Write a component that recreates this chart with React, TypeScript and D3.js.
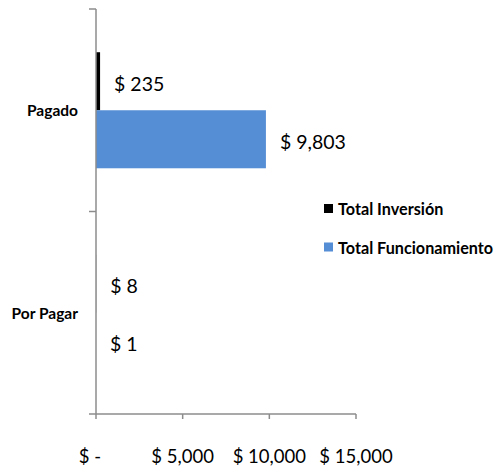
import React from "react";
import * as d3 from "d3";

const categories = ["Pagado", "Por Pagar"];
const seriesNames = ["Total Inversión", "Total Funcionamiento"];
const inversion = [235, 8];
const funcionamiento = [9803, 1];
const xTicks = [0, 5000, 10000, 15000];
const xTickLabels = ["$ -", "$ 5,000", "$ 10,000", "$ 15,000"];
const colors = ["#000000", "#558ed5"];

const W = 499;
const H = 468;
const font = "Lato, 'Open Sans', sans-serif";

export default function App() {
  const x = d3.scaleLinear().domain([0, 15000]).range([96, 356]);
  const y = d3.scaleBand().domain(categories).range([9, 414]).padding(0);
  const inner = d3
    .scaleBand()
    .domain(seriesNames)
    .range([0, y.bandwidth()])
    .paddingInner(0)
    .paddingOuter(0.745);
  const values = [inversion, funcionamiento];
  const fmt = (v: number) => "$ " + d3.format(",")(v);
  const axisColor = "#8c8c8c";

  return (
    <svg
      width={W}
      height={H}
      style={{ position: "absolute", left: 0, top: 0, background: "#fff" }}
      fontFamily={font}
    >
      {/* bars */}
      {categories.map((c, ci) =>
        seriesNames.map((s, si) => {
          const v = values[si][ci];
          const y0 = (y(c) as number) + (inner(s) as number);
          return (
            <rect
              key={c + s}
              x={x(0)}
              y={y0}
              width={Math.max(0, x(v) - x(0))}
              height={inner.bandwidth()}
              fill={colors[si]}
            />
          );
        })
      )}
      {/* axes */}
      <line x1={x(0)} x2={x(0)} y1={9} y2={414} stroke={axisColor} strokeWidth={1.5} />
      <line x1={x(0)} x2={x(15000)} y1={414} y2={414} stroke={axisColor} strokeWidth={1.5} />
      {[9, ...categories.map((c) => (y(c) as number) + y.bandwidth())].map((ty, i) => (
        <line key={"yt" + i} x1={89} x2={x(0)} y1={ty} y2={ty} stroke={axisColor} strokeWidth={1.5} />
      ))}
      {xTicks.map((t, i) => (
        <g key={"xt" + i}>
          <line x1={x(t)} x2={x(t)} y1={414} y2={419} stroke={axisColor} strokeWidth={1.5} />
          <text
            x={x(t) - (i === 0 ? 6 : 0)}
            y={456}
            textAnchor="middle"
            dominantBaseline="central"
            fontSize={18.5}
            fill="#000"
          >
            {xTickLabels[i]}
          </text>
        </g>
      ))}
      {/* category labels */}
      {categories.map((c) => (
        <text
          key={"cl" + c}
          x={78}
          y={(y(c) as number) + y.bandwidth() / 2}
          textAnchor="end"
          dominantBaseline="central"
          fontSize={15.5}
          fontWeight="bold"
          fill="#000"
        >
          {c}
        </text>
      ))}
      {/* data labels */}
      {categories.map((c, ci) =>
        seriesNames.map((s, si) => {
          const v = values[si][ci];
          const yc = (y(c) as number) + (inner(s) as number) + inner.bandwidth() / 2;
          return (
            <text
              key={"dl" + c + s}
              x={x(v) + 14}
              y={yc + 2}
              dominantBaseline="central"
              fontSize={19.5}
              fill="#000"
            >
              {fmt(v)}
            </text>
          );
        })
      )}
      {/* legend */}
      {seriesNames.map((s, i) => {
        const cy = 208.5 + i * 38.5;
        return (
          <g key={"lg" + s}>
            <rect x={324} y={cy - 4.5} width={9} height={9} fill={colors[i]} />
            <text x={338} y={cy} dominantBaseline="central" fontSize={16.2} fontWeight="bold" fill="#000">
              {s}
            </text>
          </g>
        );
      })}
    </svg>
  );
}
